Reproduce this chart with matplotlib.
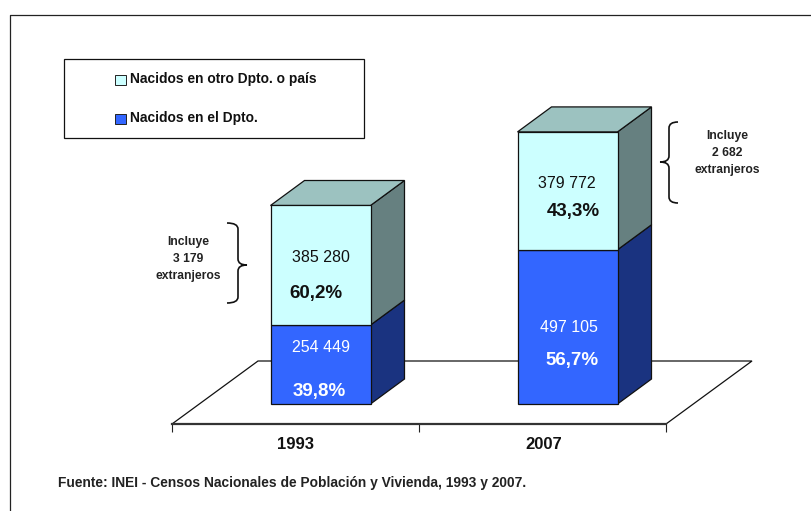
import matplotlib
matplotlib.use("Agg")
import matplotlib.pyplot as plt
from matplotlib.patches import Polygon, Rectangle, PathPatch
from matplotlib.path import Path
from matplotlib.transforms import Affine2D, IdentityTransform

years = ["1993", "2007"]
nacidos_dpto = [254449, 497105]
nacidos_otro = [385280, 379772]
label_dpto = ["254 449", "497 105"]
label_otro = ["385 280", "379 772"]
pct_dpto = ["39,8%", "56,7%"]
pct_otro = ["60,2%", "43,3%"]
legend_labels = ["Nacidos en otro Dpto. o país", "Nacidos en el Dpto."]
note_left = "Incluye\n3 179\nextranjeros"
note_right = "Incluye\n2 682\nextranjeros"
source = "Fuente: INEI - Censos Nacionales de Población y Vivienda, 1993 y 2007."

W, H = 811, 511
ARIAL = ["Liberation Sans"]
C_LIGHT, C_BLUE = "#CCFFFF", "#3366FF"
C_LIGHT_SIDE, C_BLUE_SIDE, C_TOP = "#668080", "#1A3380", "#9CC2C0"
EDGE = "#111111"

fig = plt.figure(figsize=(W / 100, H / 100), dpi=100, facecolor="white")


def P(x, y):
    return x, H - y


# axes: front edge of the floor, px x 172..666, baseline y 424
ax = fig.add_axes([172 / W, (H - 424) / H, 494 / W, 324 / H])
ax.set_xlim(-0.5, 1.5)
px_per_unit = 198.5 / (nacidos_dpto[0] + nacidos_otro[0])
ax.set_ylim(0, 324 / px_per_unit)
ax.patch.set_alpha(0)
for s in ["top", "left", "right"]:
    ax.spines[s].set_visible(False)
ax.spines["bottom"].set_linewidth(1.6)
ax.spines["bottom"].set_color("#333333")
ax.set_yticks([])
ax.set_xticks([-0.5, 0.5, 1.5])
ax.set_xticklabels([])
ax.tick_params(axis="x", length=6, width=0.8, color="#222222")

FX, FY = 86, 63      # floor depth in px
OX, OY = 25, 20      # front-of-bar offset inside the floor
DX, DY = 34, 25      # bar depth
bar_width = 100 / 247

# floor
x0 = ax.transData.transform((-0.5, 0))
x1 = ax.transData.transform((1.5, 0))
floor = Polygon([x0, x1, (x1[0] + FX, x1[1] + FY), (x0[0] + FX, x0[1] + FY)],
                closed=True, fc="white", ec="#111111", lw=0.9,
                transform=IdentityTransform(), zorder=1, clip_on=False)
ax.add_artist(floor)
floor.set_clip_on(False)

shift = Affine2D().translate(OX, OY)
tr = ax.transData + shift
xs = [0, 1]


def add_poly(pts, colour):
    poly = Polygon(pts, closed=True, fc=colour, ec=EDGE, lw=0.9,
                   transform=IdentityTransform(), zorder=3)
    ax.add_artist(poly)
    poly.set_clip_on(False)


def side(i, lo, hi, colour, top=False):
    a = tr.transform((xs[i] + bar_width / 2, lo))
    b = tr.transform((xs[i] + bar_width / 2, hi))
    add_poly([a, b, (b[0] + DX, b[1] + DY), (a[0] + DX, a[1] + DY)], colour)
    if top:
        c = tr.transform((xs[i] - bar_width / 2, hi))
        add_poly([c, b, (b[0] + DX, b[1] + DY), (c[0] + DX, c[1] + DY)], C_TOP)


for i in range(2):
    side(i, 0, nacidos_dpto[i], C_BLUE_SIDE)
    side(i, nacidos_dpto[i], nacidos_dpto[i] + nacidos_otro[i], C_LIGHT_SIDE, top=True)

ax.bar(xs, nacidos_dpto, width=bar_width, color=C_BLUE, edgecolor=EDGE, linewidth=0.9,
       transform=tr, zorder=4, clip_on=False)
ax.bar(xs, nacidos_otro, bottom=nacidos_dpto, width=bar_width, color=C_LIGHT, edgecolor=EDGE,
       linewidth=0.9, transform=tr, zorder=4, clip_on=False)


def T(x, y, s, **kw):
    x, y = P(x, y)
    kw.setdefault("ha", "center")
    kw.setdefault("va", "center")
    fig.text(x / W, y / H, s, zorder=10, family=ARIAL, **kw)


for i, (x, y) in enumerate([(321, 257), (567, 184)]):
    T(x, y, label_otro[i], fontsize=11.5, color="#111111")
for i, (x, y) in enumerate([(316, 293), (573, 211)]):
    T(x, y, pct_otro[i], fontsize=13.5, weight="bold", color="#111111")
for i, (x, y) in enumerate([(321, 347), (569, 327)]):
    T(x, y, label_dpto[i], fontsize=11.5, color="white")
for i, (x, y) in enumerate([(319, 391), (572, 360)]):
    T(x, y, pct_dpto[i], fontsize=13.5, weight="bold", color="white")

for i, (x, y) in enumerate([(296, 444), (544, 444)]):
    T(x, y, years[i], fontsize=12, weight="bold", color="#111111")

T(188, 259, note_left, fontsize=8.7, weight="bold", color="#222222", linespacing=1.6)
T(727, 153, note_right, fontsize=8.7, weight="bold", color="#222222", linespacing=1.6)
T(58, 483, source, fontsize=9.95, weight="bold", color="#222222", ha="left")

# outer frame
fig.add_artist(plt.Line2D([P(9.5, 0)[0] / W, 9.5 / W, 1],
                          [0, P(0, 15.5)[1] / H, P(0, 15.5)[1] / H],
                          color="#222222", lw=0.9))

# legend
lx0, ly0 = P(63.5, 138)
fig.add_artist(Rectangle((lx0, ly0), 300.5, 79, fc="white", ec="#111111", lw=0.9,
                         transform=IdentityTransform(), zorder=5))
for (sy, ty), col, lab in zip([(79.5, 79.5), (118.5, 118)], [C_LIGHT, C_BLUE], legend_labels):
    sx, syy = P(115.3, sy + 5.5)
    fig.add_artist(Rectangle((sx, syy), 10.5, 10.5, fc=col, ec="#222222", lw=0.7,
                             transform=IdentityTransform(), zorder=6))
    T(130, ty, lab, fontsize=9.9, weight="bold", color="#111111", ha="left")


# braces
def brace(xe, xs_, xt, yt, ym, yb):
    """xe: open end x, xs_: spine x, xt: tip x."""
    r = 6
    pts = [P(xe, yt),
           P(xs_, yt), P(xs_, yt + r),
           P(xs_, ym - r),
           P(xs_, ym), P(xt, ym),
           P(xs_, ym), P(xs_, ym + r),
           P(xs_, yb - r),
           P(xs_, yb), P(xe, yb)]
    codes = [Path.MOVETO, Path.CURVE3, Path.CURVE3, Path.LINETO, Path.CURVE3, Path.CURVE3,
             Path.CURVE3, Path.CURVE3, Path.LINETO, Path.CURVE3, Path.CURVE3]
    fig.add_artist(PathPatch(Path(pts, codes), fc="none", ec="#111111", lw=1.2,
                             transform=IdentityTransform(), zorder=6))


brace(678, 669, 660, 122, 162, 203)
brace(227, 238, 247, 223, 265, 303)

fig.savefig("out.png", dpi=100, facecolor="white")
